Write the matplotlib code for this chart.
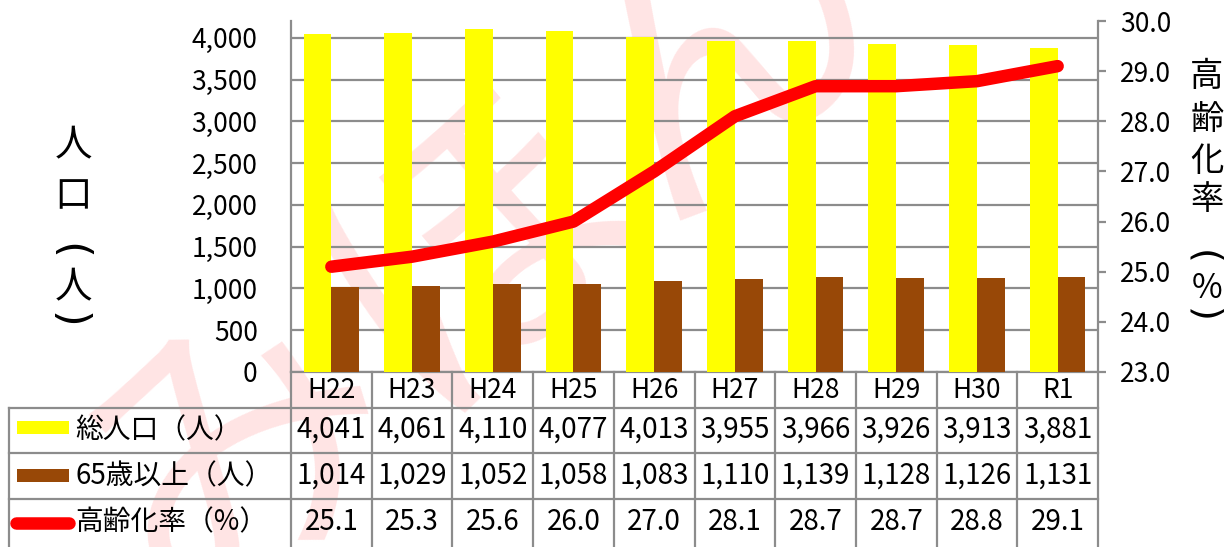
import matplotlib
matplotlib.use("Agg")
import matplotlib.pyplot as plt
from matplotlib.patches import Rectangle
from matplotlib.lines import Line2D

plt.rcParams['font.family'] = ['Noto Sans CJK JP', 'DejaVu Sans']

# --- データ ---
years = ['H22', 'H23', 'H24', 'H25', 'H26', 'H27', 'H28', 'H29', 'H30', 'R1']
total = [4041, 4061, 4110, 4077, 4013, 3955, 3966, 3926, 3913, 3881]
elderly = [1014, 1029, 1052, 1058, 1083, 1110, 1139, 1128, 1126, 1131]
rate = [25.1, 25.3, 25.6, 26.0, 27.0, 28.1, 28.7, 28.7, 28.8, 29.1]

row_labels = ['総人口（人）', '65歳以上（人）', '高齢化率（%）']
left_label = ['人', '口', '(', '人', ')']
right_label = ['高', '齢', '化', '率', '(', '%', ')']

YELLOW = '#ffff00'
BROWN = '#984807'
RED = '#ff0000'
GRID = '#8c8c8c'

W, H = 1231, 547
fig = plt.figure(figsize=(W / 100, H / 100), dpi=100)
fig.patch.set_facecolor('white')

# プロット領域（ピクセル位置から）
L, R, T, B = 291, 1098, 21, 372
ax = fig.add_axes([L / W, (H - B) / H, (R - L) / W, (B - T) / H])
ax.set_facecolor('none')


def ay(py):
    # ピクセルy -> axes座標
    return (B - py) / (B - T)


def axx(px):
    return (px - L) / (R - L)


# 透かし
fig.text(0.39, 0.54, 'みほん', rotation=40, fontsize=225, color='#ffe4e4',
         ha='center', va='center', zorder=-1)

x = list(range(len(years)))
bw = 0.345
ax.bar([i - bw / 2 for i in x], total, width=bw, color=YELLOW, zorder=3)
ax.bar([i + bw / 2 for i in x], elderly, width=bw, color=BROWN, zorder=3)

ax.set_xlim(-0.5, len(years) - 0.5)
ax.set_ylim(0, 4200)
ax.set_yticks(range(0, 4001, 500))
ax.set_yticklabels([f'{v:,}' for v in range(0, 4001, 500)])
ax.tick_params(axis='y', length=0, pad=24, labelsize=19)
ax.set_xticks([])
ax.grid(axis='y', color=GRID, lw=1.6, zorder=1)
for s in ['top', 'right', 'bottom']:
    ax.spines[s].set_visible(False)
ax.spines['left'].set_color(GRID)
ax.spines['left'].set_linewidth(1.6)

ax2 = ax.twinx()
ax2.set_facecolor('none')
ax2.plot(x, rate, color=RED, lw=9, solid_capstyle='round',
         solid_joinstyle='round', zorder=5)
ax2.set_ylim(23, 30)
ax2.set_yticks([23 + i for i in range(8)])
ax2.set_yticklabels([f'{23 + i:.1f}' for i in range(8)])
ax2.tick_params(axis='y', length=6, width=1.6, color=GRID, pad=10, labelsize=19)
for s in ['top', 'left', 'bottom', 'right']:
    ax2.spines[s].set_visible(False)

# --- 表 ---
xt = ax.get_xaxis_transform()
lk = dict(color=GRID, lw=1.6, clip_on=False, transform=ax.transAxes, zorder=2)
# 横線
ax.add_line(Line2D([0, 1], [0, 0], **lk))
for py in [408, 453, 499]:
    ax.add_line(Line2D([axx(9), 1], [ay(py), ay(py)], **lk))
# 縦線
ax.add_line(Line2D([axx(9), axx(9)], [ay(408), ay(547)], **lk))
ax.add_line(Line2D([0, 0], [ay(372), ay(547)], **lk))
ax.add_line(Line2D([1, 1], [1, ay(547)], **lk))
for i in range(1, len(years)):
    ax.add_line(Line2D([i - 0.5, i - 0.5], [ay(372), ay(547)], color=GRID, lw=1.6,
                       clip_on=False, transform=xt, zorder=2))

for i, yr in enumerate(years):
    ax.text(i, ay(390), yr, transform=xt, ha='center', va='center', fontsize=19)
    ax.text(i, ay(430), f'{total[i]:,}', transform=xt, ha='center', va='center', fontsize=20)
    ax.text(i, ay(476), f'{elderly[i]:,}', transform=xt, ha='center', va='center', fontsize=20)
    ax.text(i, ay(522), f'{rate[i]:.1f}', transform=xt, ha='center', va='center', fontsize=20)

# 凡例キー
ax.add_patch(Rectangle((axx(17), ay(434)), axx(69) - axx(17), ay(421) - ay(434),
                       facecolor=YELLOW, transform=ax.transAxes, clip_on=False))
ax.add_patch(Rectangle((axx(17), ay(482)), axx(69) - axx(17), ay(469) - ay(482),
                       facecolor=BROWN, transform=ax.transAxes, clip_on=False))
ax.add_line(Line2D([axx(16), axx(69)], [ay(523), ay(523)], color=RED, lw=9,
                   solid_capstyle='round', transform=ax.transAxes, clip_on=False))
for lab, py in zip(row_labels, [430, 476, 522]):
    ax.text(axx(75), ay(py), lab, transform=ax.transAxes, ha='left', va='center',
            fontsize=20)


# 軸タイトル（縦書き、括弧は回転）
def vlabel(chars, xs, ys, size):
    for ch, py in zip(chars, ys):
        if ch in '()':
            fig.text((xs - 5) / W, (H - py) / H, ch, ha='center', va='center',
                     fontsize=size * 1.15, rotation=270, rotation_mode='anchor',
                     family='DejaVu Sans')
        else:
            fig.text(xs / W, (H - py) / H, ch, ha='center', va='center', fontsize=size)


vlabel(left_label, 73, [146, 197, 251, 288, 320], 27)
vlabel(right_label, 1207, [76, 119, 161, 200, 257, 289, 315], 24)

fig.savefig('out.png', dpi=100)
